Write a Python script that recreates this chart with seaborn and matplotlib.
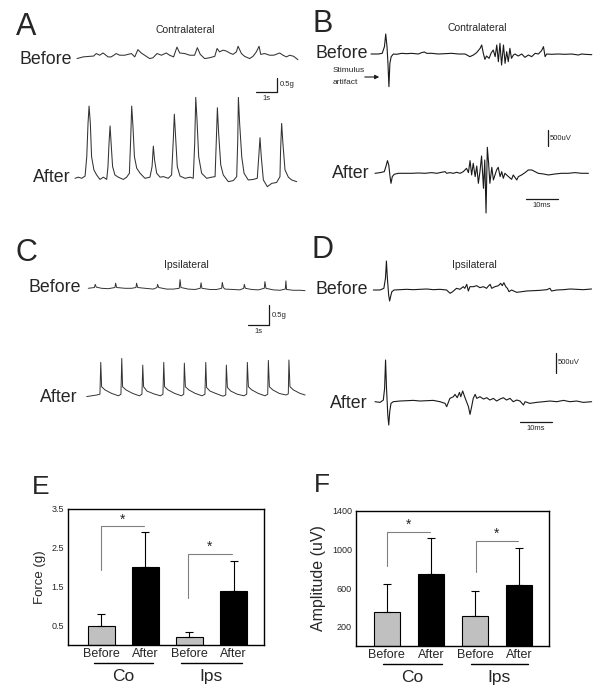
import numpy as np
import pandas as pd
import matplotlib
matplotlib.use("Agg")
import matplotlib.pyplot as plt
import seaborn as sns

# ---- force traces (time in s, force in g) ----
a_before = [(0, -0.01), (0.29, 0.05), (0.60, 0.07), (0.79, 0.08), (0.92, 0.17), (1.08, 0.11), (1.24, 0.19),
            (1.48, 0.05), (1.63, 0.05), (1.87, 0.17), (2.03, 0.11), (2.27, 0.11), (2.59, 0.17), (2.75, 0.05),
            (2.90, 0.31), (3.06, 0.19), (3.30, 0.07), (3.46, -0.01), (3.62, 0.02), (3.81, 0.17), (4.02, 0.11),
            (4.25, 0.19), (4.41, 0.11), (4.60, 0.05), (4.76, 0.40), (4.89, 0.19), (5.13, 0.17), (5.37, 0.11),
            (5.60, 0.11), (5.73, 0.38), (5.87, 0.14), (6.08, -0.01), (6.32, 0.02), (6.56, 0.07), (6.67, 0.35),
            (6.79, 0.23), (6.95, 0.29), (7.11, 0.26), (7.27, 0.19), (7.43, 0.14), (7.59, 0.23), (7.67, 0.43),
            (7.83, 0.17), (7.98, 0.07), (8.22, -0.01), (8.38, 0.07), (8.54, 0.23), (8.67, 0.43), (8.75, 0.14),
            (8.94, 0.17), (9.17, 0.11), (9.37, 0.11), (9.65, 0.19), (9.81, 0.11), (9.97, 0.05), (10.13, 0.11),
            (10.32, 0.07), (10.52, -0.05)]
a_after = [(0, 0), (0.16, 0.04), (0.32, 0), (0.48, 0.08), (0.56, 0.77), (0.62, 1.96), (0.67, 2.58), (0.73, 1.96),
           (0.79, 0.77), (0.90, 0.30), (1.03, 0.12), (1.19, -0.04), (1.35, 0.04), (1.51, -0.04), (1.57, 0.42),
           (1.62, 1.25), (1.67, 1.87), (1.73, 1.13), (1.79, 0.42), (1.90, 0.12), (2.06, 0.04), (2.30, -0.04),
           (2.46, 0.04), (2.59, 0.18), (2.65, 1.37), (2.70, 2.58), (2.76, 1.85), (2.83, 0.77), (2.94, 0.36),
           (3.10, 0.18), (3.33, 0), (3.57, 0.04), (3.67, 0.42), (3.73, 1.15), (3.79, 0.65), (3.89, 0.18),
           (4.05, 0.04), (4.21, 0.06), (4.44, 0), (4.60, 0.12), (4.68, 1.37), (4.73, 2.29), (4.79, 1.49),
           (4.87, 0.42), (5.00, 0.08), (5.24, 0), (5.48, 0.04), (5.63, 0), (5.70, 1.25), (5.75, 2.89),
           (5.81, 2.08), (5.89, 0.77), (6.03, 0.18), (6.27, 0), (6.51, 0.04), (6.67, 0.06), (6.73, 1.37),
           (6.78, 2.52), (6.84, 1.61), (6.94, 0.48), (7.06, 0.12), (7.30, -0.12), (7.54, -0.08), (7.70, 0.06),
           (7.75, 1.37), (7.78, 2.89), (7.84, 1.96), (7.94, 0.77), (8.05, 0.18), (8.25, -0.06), (8.49, -0.04),
           (8.68, 0), (8.75, 0.77), (8.81, 1.45), (8.87, 0.77), (8.97, -0.06), (9.16, -0.30), (9.37, -0.18),
           (9.60, -0.15), (9.76, 0.06), (9.79, 1.01), (9.84, 1.96), (9.90, 1.25), (10.00, 0.30), (10.16, 0.04),
           (10.32, -0.06), (10.56, -0.12)]
c_before = [(0, 0), (0.29, 0.02), (0.33, 0.10), (0.38, 0.03), (0.63, 0), (0.95, -0.01), (1.27, 0.02), (1.30, 0.13),
            (1.35, 0.02), (1.75, 0), (2.06, 0), (2.27, 0.02), (2.30, 0.13), (2.35, 0.02), (2.70, 0), (3.10, -0.02),
            (3.27, 0.02), (3.30, 0.10), (3.35, 0.02), (3.73, -0.02), (4.05, -0.02), (4.33, 0), (4.37, 0.22),
            (4.41, 0.02), (4.76, -0.02), (5.08, -0.03), (5.33, 0), (5.37, 0.14), (5.41, 0), (5.79, -0.03),
            (6.11, -0.03), (6.35, 0), (6.38, 0.15), (6.43, 0.02), (6.51, -0.02), (6.90, -0.03), (7.22, -0.04),
            (7.40, 0), (7.43, 0.10), (7.48, 0), (7.78, -0.03), (8.10, -0.04), (8.38, 0), (8.41, 0.17), (8.46, 0),
            (8.81, -0.04), (9.13, -0.05), (9.38, -0.02), (9.41, 0.19), (9.44, -0.03), (9.76, -0.05),
            (10.08, -0.05), (10.32, -0.06)]
c_after = [(0, -0.04), (0.24, -0.02), (0.48, 0), (0.63, 0.02), (0.67, 0.83), (0.71, 0.21), (0.87, 0.13),
           (1.19, 0.04), (1.51, -0.02), (1.63, 0.02), (1.67, 0.93), (1.71, 0.21), (1.87, 0.13), (2.19, 0.04),
           (2.51, -0.02), (2.63, 0.02), (2.67, 0.76), (2.71, 0.21), (2.87, 0.10), (3.19, 0.03), (3.51, -0.02),
           (3.63, 0.02), (3.67, 0.83), (3.71, 0.21), (3.87, 0.13), (4.19, 0.04), (4.51, -0.02), (4.62, 0.02),
           (4.65, 0.81), (4.70, 0.21), (4.86, 0.13), (5.17, 0.04), (5.49, -0.02), (5.63, 0.02), (5.67, 0.83),
           (5.71, 0.19), (5.87, 0.10), (6.19, 0.03), (6.49, -0.03), (6.62, 0), (6.65, 0.76), (6.70, 0.19),
           (6.86, 0.10), (7.17, 0.02), (7.49, -0.02), (7.62, 0.02), (7.65, 0.83), (7.70, 0.21), (7.86, 0.13),
           (8.17, 0.04), (8.49, -0.02), (8.62, 0.02), (8.65, 0.88), (8.70, 0.21), (8.86, 0.13), (9.17, 0.04),
           (9.49, 0), (9.60, 0.03), (9.63, 0.89), (9.68, 0.21), (9.84, 0.13), (10.16, 0.04), (10.40, 0)]

# ---- EMG traces (time in ms, amplitude in uV) ----
b_before = [(0, 0), (2.3, 0), (3.5, 21), (4.2, 229), (4.6, 625), (5.0, 229), (5.3, -292), (5.6, -1021),
            (5.9, -292), (6.3, -83), (7.0, 0), (8.0, -10), (9.6, 21), (11.1, 10), (12.7, 21), (14.8, 0),
            (15.8, 42), (16.7, 63), (17.4, 21), (19.0, 21), (21.0, 0), (23.1, 10), (25.2, 21), (27.3, 0),
            (29.4, 0), (30.9, -83), (32.0, -31), (33.0, 42), (34.1, 177), (34.6, 281), (35.1, 21), (35.6, -167),
            (36.1, -63), (36.9, -135), (37.5, 21), (38.2, 125), (38.8, -83), (39.3, 281), (39.8, -240),
            (40.3, 333), (40.8, -344), (41.4, 281), (41.9, -292), (42.4, 73), (42.9, -240), (43.4, 177),
            (43.9, -135), (44.5, -31), (45.0, 0), (46.0, -63), (47.1, 0), (48.1, -104), (49.2, -31), (50.2, -83),
            (51.3, 21), (52.3, 0), (53.3, 104), (53.9, 229), (54.4, -83), (54.9, 0), (56.5, -10), (58.5, 0),
            (60.6, -10), (62.7, 0), (64.8, -31), (65.8, 0), (66.9, -10), (69.0, -21)]
b_after = [(0, 0), (1.6, 21), (2.9, 52), (3.4, 208), (3.9, 396), (4.3, 260), (4.7, -104), (5.0, -313),
           (5.4, -104), (6.0, -31), (7.3, 0), (9.4, 0), (11.5, 0), (13.5, 10), (15.6, 0), (17.7, 21), (19.3, 0),
           (20.8, 31), (21.9, 52), (22.4, 0), (23.4, 21), (24.5, 0), (25.5, 31), (26.6, 0), (27.6, 52),
           (28.6, 156), (29.2, 21), (29.7, 396), (30.2, -52), (30.7, 313), (31.3, -104), (31.8, 229),
           (32.3, -313), (32.8, 52), (33.3, 542), (33.9, -469), (34.3, 417), (34.7, -1240), (35.1, 813),
           (35.5, 313), (35.9, -313), (36.5, 188), (37.0, -208), (37.5, -52), (38.0, 104), (38.5, 188),
           (39.1, -104), (39.6, 52), (40.1, -156), (40.6, 0), (41.7, -104), (42.7, -188), (43.2, -52),
           (44.3, -208), (44.8, -104), (45.8, -52), (46.9, 21), (47.9, 104), (49.0, 104), (50.0, 52), (51.0, 0),
           (52.6, -21), (54.2, -52), (56.3, -21), (58.3, 0), (60.4, 0), (62.5, 21), (64.6, 0), (66.7, 0)]
d_before = [(0, 0), (2.1, 0), (3.3, 42), (3.8, 292), (4.1, 725), (4.4, 292), (4.8, -125), (5.1, -275),
            (5.4, -167), (5.8, -42), (6.5, 0), (8.3, 8), (10.4, 17), (12.5, 8), (14.6, 17), (16.7, 25), (18.8, 8),
            (20.8, 17), (22.9, 0), (24.0, -83), (24.8, -42), (26.0, 42), (27.1, 17), (28.1, 83), (28.6, 42),
            (29.2, 142), (29.7, -25), (30.2, 83), (31.3, 83), (32.3, 108), (33.3, 58), (34.4, 83), (35.4, 42),
            (35.9, 92), (36.5, 142), (37.0, 42), (38.0, 83), (39.1, 108), (39.8, 167), (40.3, 108), (40.8, 183),
            (41.4, 83), (41.9, 42), (42.4, -42), (43.2, 0), (44.8, -58), (46.4, -42), (47.9, -25), (50.0, -17),
            (52.1, -8), (54.2, 8), (55.2, 42), (55.7, -25), (57.3, 0), (59.4, 8), (61.5, 25), (63.5, 17),
            (65.6, 8), (68.2, 25)]
d_after = [(0, 0), (1.6, -17), (2.6, 42), (3.0, 333), (3.3, 1042), (3.6, 333), (4.0, -333), (4.3, -583),
           (4.6, -250), (5.0, -42), (5.7, 0), (7.8, 17), (9.9, 25), (12.0, 33), (14.1, 17), (16.1, 25), (18.2, 33),
           (20.3, 0), (21.9, -42), (22.4, -125), (23.4, 83), (24.5, 125), (25.0, 183), (25.7, 100), (26.4, 233),
           (26.8, 125), (27.4, 267), (27.9, 150), (28.4, 42), (29.2, -125), (29.7, -317), (30.2, -125),
           (30.7, 83), (31.3, 183), (31.8, 83), (32.8, 125), (33.9, 67), (34.9, 100), (35.9, 42), (37.0, 83),
           (38.0, 17), (39.1, 67), (40.1, 100), (41.1, 42), (42.2, 83), (43.2, 0), (44.3, 42), (45.3, 17),
           (46.4, -83), (46.9, 0), (48.4, -42), (50.5, -17), (52.6, 0), (54.7, 17), (56.8, 0), (58.9, 33),
           (60.9, 0), (63.0, 17), (65.1, -17), (67.7, 0)]

# ---- summary bars ----
conditions = ["Co Before", "Co After", "Ips Before", "Ips After"]
tick_labels = ["Before", "After", "Before", "After"]
force_mean = [0.50, 2.00, 0.21, 1.38]
force_err = [0.30, 0.90, 0.13, 0.79]
amp_mean = [350, 750, 306, 635]
amp_err = [295, 370, 267, 380]

sns.set_style("white")
plt.rcParams["font.family"] = ["Liberation Sans", "DejaVu Sans"]

fig = plt.figure(figsize=(6, 6.98), dpi=100)
ov = fig.add_axes([0, 0, 1, 1])
ov.axis("off")
INK = "#1a1a1a"


def draw_trace(pairs, x0, y0, px_t, px_v, color=INK, lw=0.8):
    arr = np.array(pairs, dtype=float)
    xs = x0 + arr[:, 0] * px_t
    ys = y0 - arr[:, 1] * px_v
    sns.lineplot(x=xs, y=ys, ax=ov, color=color, lw=lw, sort=False, estimator=None)


# panel A / C (force), 21 px per s
draw_trace(a_before, 77, 58.3, 21, 28, "#333333", 0.75)
draw_trace(a_after, 75, 178.3, 21, 28, "#333333", 0.75)
draw_trace(c_before, 88.3, 288.3, 21, 39.3, "#333333", 0.7)
draw_trace(c_after, 86.7, 395, 21, 39.3, "#333333", 0.7)
# panel B / D (EMG), 3.2 px per ms
draw_trace(b_before, 371, 54, 3.2, 0.032)
draw_trace(b_after, 375, 173.3, 3.2, 0.032)
draw_trace(d_before, 373.3, 290, 3.2, 0.04)
draw_trace(d_after, 375, 401.7, 3.2, 0.04)


def scale_bars(xc, yc, px_t, t_len, px_v, v_len, v_txt, t_txt):
    # vertical bar up from corner, horizontal bar left from corner
    ov.plot([xc, xc], [yc, yc - v_len * px_v], color=INK, lw=0.9)
    ov.plot([xc - t_len * px_t, xc], [yc, yc], color=INK, lw=0.9)
    ov.text(xc + 3, yc - v_len * px_v / 2, v_txt, fontsize=5.5, va="center", ha="left")
    ov.text(xc - t_len * px_t / 2, yc + 3, t_txt, fontsize=5.5, va="top", ha="center")


scale_bars(277, 92, 21, 1, 28, 0.5, "0.5g", "1s")
scale_bars(269, 325, 21, 1, 39.3, 0.5, "0.5g", "1s")

# EMG scale bars (separate vertical and horizontal)
for (vx, vy, pxv, hx, hy) in [(548, 146, 0.032, 526, 199), (556, 373, 0.04, 520, 422)]:
    ov.plot([vx, vx], [vy, vy - 500 * pxv], color=INK, lw=0.9)
    ov.text(vx + 2, vy - 250 * pxv, "500uV", fontsize=5.5, va="center", ha="left")
    ov.plot([hx, hx + 10 * 3.2], [hy, hy], color=INK, lw=0.9)
    ov.text(hx + 16, hy + 3, "10ms", fontsize=5.5, va="top", ha="center")

# panel letters and labels
for lab, x, y in [("A", 26, 27), ("B", 323, 24), ("C", 26, 253), ("D", 323, 250)]:
    ov.text(x, y, lab, fontsize=22, ha="center", va="center")
for txt, x, y in [("Contralateral", 185, 30), ("Contralateral", 477, 28),
                  ("Ipsilateral", 186, 265), ("Ipsilateral", 474, 265)]:
    ov.text(x, y, txt, fontsize=7.5, ha="center", va="center")
for txt, x, y in [("Before", 72, 59), ("After", 71, 177), ("Before", 368, 53), ("After", 370, 174),
                  ("Before", 81, 287), ("After", 78, 397), ("Before", 368, 290), ("After", 368, 403)]:
    ov.text(x, y, txt, fontsize=12.8, ha="right", va="center")
ov.text(333, 71, "Stimulus", fontsize=6, ha="left", va="center")
ov.text(333, 82, "artifact", fontsize=6, ha="left", va="center")
ov.annotate("", xy=(382, 77), xytext=(362, 77),
            arrowprops=dict(arrowstyle="-|>", color=INK, lw=0.8, mutation_scale=6))
ov.text(41, 487, "E", fontsize=19, ha="center", va="center")
ov.text(322, 485, "F", fontsize=19, ha="center", va="center")

ov.set_xlim(0, 600)
ov.set_ylim(698, 0)


def bar_panel(rect, means, errs, ylim, yticks, ylabel, ylab_size, xlim, width, brackets, group_y, text_y):
    ax = fig.add_axes(rect)
    df = pd.DataFrame({"cond": conditions, "val": means})
    sns.barplot(data=df, x="cond", y="val", hue="cond", palette=["#c0c0c0", "black", "#c0c0c0", "black"],
                width=width, edgecolor="black", linewidth=0.8, legend=False, ax=ax)
    ax.errorbar(range(4), means, yerr=[np.zeros(4), errs], fmt="none", ecolor="black",
                elinewidth=0.8, capsize=3, capthick=0.8)
    ax.set_ylim(*ylim)
    ax.set_xlim(*xlim)
    ax.set_yticks(yticks)
    ax.set_yticklabels([str(t) for t in yticks])
    ax.set_xticks(range(4))
    ax.set_xticklabels(tick_labels, fontsize=9)
    ax.tick_params(axis="y", labelsize=6.5, length=0, pad=3)
    ax.tick_params(axis="x", length=0, pad=2)
    ax.set_xlabel("")
    ax.set_ylabel(ylabel, fontsize=ylab_size, labelpad=4)
    for sp in ax.spines.values():
        sp.set_visible(True)
        sp.set_color("black")
        sp.set_linewidth(1.0)
    for (x1, x2, y_low, y_top) in brackets:
        ax.plot([x1, x1, x2], [y_low, y_top, y_top], color="#808080", lw=0.8)
        ax.text((x1 + x2) / 2, y_top, "*", fontsize=10, ha="center", va="bottom")
    tr = ax.get_xaxis_transform()
    for (x1, x2, name) in group_y:
        ax.plot([x1, x2], [-0.135, -0.135], color="black", lw=1.0, transform=tr, clip_on=False)
        ax.text((x1 + x2) / 2, text_y, name, fontsize=12.5, ha="center", va="center", transform=tr)
    return ax


bar_panel([68 / 600, 53 / 698, 196 / 600, 136 / 698], force_mean, force_err, (0, 3.5),
          [0.5, 1.5, 2.5, 3.5], "Force (g)", 9.5, (-0.75, 3.69), 0.61,
          [(0, 0.97, 1.92, 3.05), (1.96, 2.96, 1.21, 2.34)],
          [(-0.16, 1.18, "Co"), (1.81, 3.19, "Ips")], -0.235)
bar_panel([356 / 600, 52 / 698, 193 / 600, 135 / 698], amp_mean, amp_err, (0, 1400),
          [200, 600, 1000, 1400], "Amplitude (uV)", 11.5, (-0.70, 3.68), 0.6,
          [(0, 0.98, 828, 1187), (2.02, 2.98, 770, 1086)],
          [(-0.09, 1.25, "Co"), (1.91, 3.2, "Ips")], -0.23)

fig.savefig("out.png", dpi=100)
